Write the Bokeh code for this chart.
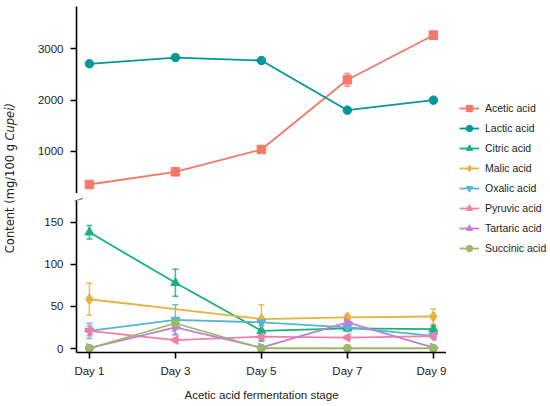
import math
from bokeh.plotting import figure
from bokeh.models import (ColumnDataSource, Whisker, TeeHead, FixedTicker, Label,
                          Legend, LegendItem, Range1d, Div)
from bokeh.layouts import row, column
from bokeh.embed import file_html
from bokeh.resources import INLINE

nan = float("nan")

# ---------------- data ----------------
days = [1, 3, 5, 7, 9]
day_labels = ["Day 1", "Day 3", "Day 5", "Day 7", "Day 9"]

acetic = [357, 604, 1039, 2396, 3265]
acetic_sd = [30, 30, 30, 125, 75]
lactic = [2708, 2830, 2772, 1805, 2000]
lactic_sd = [20, 20, 20, 20, 20]
citric = [138, 78, 21, 24, 23]
citric_sd = [8, 16, 12, 3, 4]
malic = [58.5, nan, 35, 37, 38]
malic_sd = [19, nan, 17, 3, 9]
oxalic = [21, 34, 31, 25, 15]
oxalic_sd = [9, 18, 4, 4, 3]
pyruvic = [21, 10, 14, 13, 14.6]
pyruvic_sd = [6, 2, 3, 2, 2]
tartaric = [0.5, 25, 1, 31, 1]
tartaric_sd = [2, 8, 2, 4, 1]
succinic = [0.3, 30, 0.3, 0.3, 0.3]
succinic_sd = [1, 3, 1, 1, 1]

upper_ticks = [1000, 2000, 3000]
lower_ticks = [0, 50, 100, 150]

series_names = ["Acetic acid", "Lactic acid", "Citric acid", "Malic acid",
                "Oxalic acid", "Pyruvic acid", "Tartaric acid", "Succinic acid"]

# ---------------- styling ----------------
FONT = "Liberation Sans"
TXT = "#222222"
styles = {
    "Acetic acid":   dict(color="#F6786A", marker="square", angle=0.0, size=8.5),
    "Lactic acid":   dict(color="#00979B", marker="circle", angle=0.0, size=8.5),
    "Citric acid":   dict(color="#16B27A", marker="triangle", angle=0.0, size=9),
    "Malic acid":    dict(color="#E9B13F", marker="diamond", angle=0.0, size=11),
    "Oxalic acid":   dict(color="#58B4D3", marker="inverted_triangle", angle=0.0, size=9),
    "Pyruvic acid":  dict(color="#F17FA9", marker="triangle", angle=math.pi / 2, size=9),
    "Tartaric acid": dict(color="#C07FD2", marker="triangle", angle=-math.pi / 2, size=9),
    "Succinic acid": dict(color="#9CB86B", marker="circle", angle=0.0, size=8),
}
series_data = {
    "Acetic acid": (acetic, acetic_sd, "upper"),
    "Lactic acid": (lactic, lactic_sd, "upper"),
    "Citric acid": (citric, citric_sd, "lower"),
    "Malic acid": (malic, malic_sd, "lower"),
    "Oxalic acid": (oxalic, oxalic_sd, "lower"),
    "Pyruvic acid": (pyruvic, pyruvic_sd, "lower"),
    "Tartaric acid": (tartaric, tartaric_sd, "lower"),
    "Succinic acid": (succinic, succinic_sd, "lower"),
}

xr = Range1d(0.70, 9.305)
MAIN_W = 426
LEFT_B = 56


def base_fig(**kw):
    p = figure(output_backend="svg", toolbar_location=None, **kw)
    p.outline_line_color = None
    p.background_fill_color = "white"
    p.border_fill_color = "white"
    p.xgrid.visible = False
    p.ygrid.visible = False
    return p


def style_axis(ax):
    ax.axis_line_color = "black"
    ax.axis_line_width = 1.6
    ax.major_tick_line_color = "black"
    ax.major_tick_line_width = 1.6
    ax.major_tick_in = 0
    ax.major_tick_out = 6
    ax.minor_tick_line_color = None
    ax.major_label_text_font = FONT
    ax.major_label_text_font_size = "11.5px"
    ax.major_label_text_color = TXT


top = base_fig(width=MAIN_W, height=193, x_range=xr, y_range=Range1d(182, 3824),
               x_axis_location=None, min_border_left=LEFT_B, min_border_right=0,
               min_border_top=6, min_border_bottom=0)
bot = base_fig(width=MAIN_W, height=206, x_range=xr, y_range=Range1d(-4.75, 175.8),
               min_border_left=LEFT_B, min_border_right=0, min_border_top=0,
               min_border_bottom=54)

top.yaxis.ticker = FixedTicker(ticks=upper_ticks)
bot.yaxis.ticker = FixedTicker(ticks=lower_ticks)
bot.xaxis.ticker = FixedTicker(ticks=days)
bot.xaxis.major_label_overrides = {d: l for d, l in zip(days, day_labels)}
for ax in [top.yaxis[0], bot.yaxis[0], bot.xaxis[0]]:
    style_axis(ax)
top.yaxis.major_label_standoff = 7
bot.yaxis.major_label_standoff = 7
bot.xaxis.major_label_standoff = 6
bot.xaxis.axis_label = "Acetic acid fermentation stage"
bot.xaxis.axis_label_text_font = FONT
bot.xaxis.axis_label_text_font_size = "11.5px"
bot.xaxis.axis_label_text_font_style = "normal"
bot.xaxis.axis_label_text_color = TXT
bot.xaxis.axis_label_standoff = 9


def make_source(vals, sd):
    xs, ys, lo, hi = [], [], [], []
    for d, v, e in zip(days, vals, sd):
        if not math.isnan(v):
            xs.append(d); ys.append(v); lo.append(v - e); hi.append(v + e)
    return ColumnDataSource(dict(x=xs, y=ys, lo=lo, hi=hi))


def draw(p, src, st):
    c = st["color"]
    p.add_layout(Whisker(source=src, base="x", upper="hi", lower="lo",
                         dimension="height", line_color=c, line_width=1.5,
                         line_alpha=0.85,
                         upper_head=TeeHead(size=6, line_color=c, line_width=1.5, line_alpha=0.85),
                         lower_head=TeeHead(size=6, line_color=c, line_width=1.5, line_alpha=0.85)))
    p.line("x", "y", source=src, line_color=c, line_width=1.8)
    p.scatter("x", "y", source=src, marker=st["marker"], angle=st["angle"],
              size=st["size"], fill_color=c, line_color=c)


sources = {}
for name in series_names:
    vals, sd, panel = series_data[name]
    sources[name] = make_source(vals, sd)
    draw(top if panel == "upper" else bot, sources[name], styles[name])

# axis break marks (decoration in the gap between the two panels)
brk_svg = (
    f'<svg width="{MAIN_W}" height="7" style="display:block;overflow:visible">'
    f'<line x1="{LEFT_B - 4}" y1="4" x2="{LEFT_B + 7}" y2="0.3" stroke="#808080" stroke-width="1.3"/>'
    f'<line x1="{LEFT_B - 4}" y1="7.5" x2="{LEFT_B + 7}" y2="3.8" stroke="#808080" stroke-width="1.3"/>'
    '</svg>'
)
brk = Div(text=brk_svg, width=MAIN_W, height=7, margin=0, styles={"overflow": "visible"})

# ---------------- y-axis title (rotated, partly italic) ----------------
lab = base_fig(width=20, height=406, x_range=Range1d(0, 20), y_range=Range1d(0, 406),
               x_axis_location=None, y_axis_location=None, min_border=0)
lab.add_layout(Label(x=9, y=406 - 143.5, text="Content (mg/100 g", angle=math.pi / 2,
                     text_align="right", text_baseline="middle", text_font="DejaVu Sans",
                     text_font_size="11.5px", text_color=TXT))
lab.add_layout(Label(x=9, y=406 - 140, text="Cupei)", angle=math.pi / 2,
                     text_align="left", text_baseline="middle", text_font="DejaVu Sans",
                     text_font_size="11.5px", text_font_style="italic", text_color=TXT))

# ---------------- legend (own panel, spans both halves) ----------------
leg = base_fig(width=104, height=406, x_range=Range1d(100, 101), y_range=Range1d(-1e6, -1e6 + 1),
               x_axis_location=None, y_axis_location=None, min_border=0)
items = []
for name in series_names:
    st = styles[name]
    r1 = leg.line("x", "y", source=sources[name], line_color=st["color"], line_width=1.8)
    r2 = leg.scatter("x", "y", source=sources[name], marker=st["marker"], angle=st["angle"],
                     fill_color=st["color"], line_color=st["color"])
    items.append(LegendItem(label=name, renderers=[r1, r2], index=0))
legend = Legend(items=items, location=(13, 150), glyph_width=20, glyph_height=16,
                label_height=16, label_standoff=6, spacing=4, padding=0, margin=0,
                border_line_color=None, background_fill_alpha=0,
                label_text_font=FONT, label_text_font_size="10.5px",
                label_text_color=TXT)
leg.add_layout(legend)

layout = row(lab, column(top, brk, bot), leg)

with open("out.html", "w") as f:
    f.write(file_html(layout, INLINE))
